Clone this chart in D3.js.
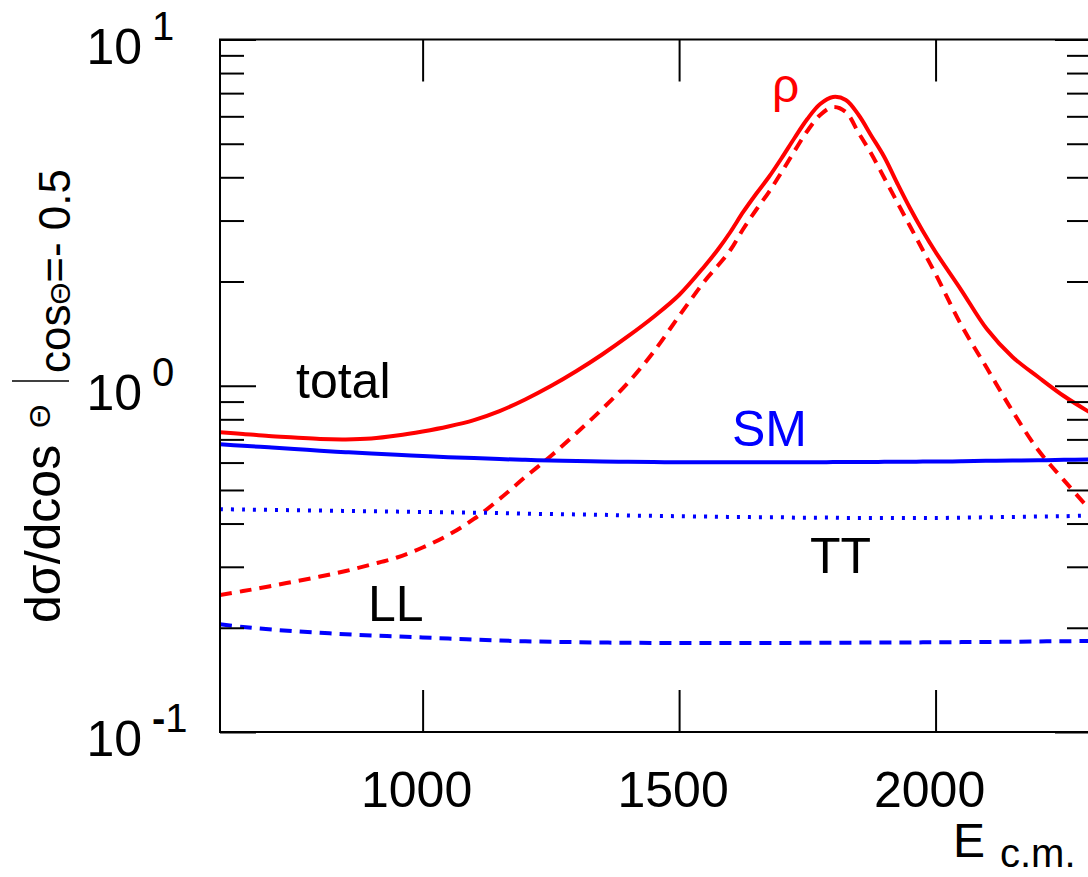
<!DOCTYPE html>
<html><head><meta charset="utf-8">
<script src="https://cdn.jsdelivr.net/npm/d3@7"></script>
<style>
body{margin:0;background:#fff}
svg{display:block}
text{font-family:"Liberation Sans",Arial,Helvetica,sans-serif}
</style>
</head><body>
<svg id="c" width="1088" height="877"></svg>
<script>
// ---- data ----
const energy = [605,650,700,750,800,850,900,950,1000,1050,1100,1150,1200,1250,1300,1350,1400,1450,1500,1550,1575,1600,1625,1650,1675,1700,1725,1750,1775,1800,1825,1850,1875,1900,1925,1950,1975,2000,2050,2100,2150,2200,2250,2303];
const totalRho = [0.734,0.726,0.716,0.709,0.702,0.700,0.704,0.718,0.738,0.763,0.796,0.845,0.913,0.998,1.103,1.231,1.388,1.580,1.828,2.218,2.466,2.780,3.176,3.580,4.007,4.548,5.195,5.894,6.512,6.824,6.689,6.053,5.266,4.578,3.851,3.261,2.799,2.434,1.890,1.458,1.211,1.060,0.934,0.834];
const rhoOnly = [0.2486,0.2553,0.2631,0.2720,0.2812,0.2917,0.3046,0.3191,0.3410,0.3706,0.4123,0.4710,0.5449,0.6267,0.7303,0.8566,1.0185,1.2515,1.590,2.007,2.218,2.466,2.836,3.218,3.627,4.143,4.764,5.443,6.053,6.383,6.175,5.371,4.670,3.981,3.394,2.893,2.466,2.102,1.498,1.125,0.845,0.652,0.534,0.435];
const smTotal = [0.678,0.671,0.664,0.657,0.649,0.643,0.637,0.632,0.627,0.622,0.618,0.614,0.611,0.608,0.606,0.604,0.603,0.602,0.601,0.601,0.601,0.601,0.601,0.601,0.601,0.601,0.601,0.601,0.601,0.602,0.602,0.602,0.602,0.603,0.603,0.603,0.604,0.604,0.605,0.607,0.608,0.609,0.611,0.613];
const smTT = [0.440,0.439,0.438,0.437,0.436,0.435,0.434,0.433,0.432,0.431,0.430,0.429,0.427,0.426,0.425,0.424,0.422,0.421,0.420,0.419,0.4185,0.418,0.418,0.417,0.417,0.417,0.416,0.416,0.416,0.416,0.415,0.415,0.415,0.415,0.415,0.415,0.415,0.415,0.416,0.417,0.418,0.419,0.420,0.422];
const smLL = [0.2046,0.201,0.198,0.1955,0.1935,0.1915,0.190,0.1888,0.1875,0.1862,0.185,0.1838,0.1828,0.1822,0.1817,0.1813,0.181,0.1808,0.1807,0.1807,0.1807,0.1807,0.1807,0.1807,0.1808,0.1808,0.1809,0.1809,0.181,0.181,0.1811,0.1812,0.1813,0.1813,0.1814,0.1814,0.1815,0.1816,0.1818,0.182,0.1823,0.1826,0.1829,0.1831];

const xTickValues = [1000,1500,2000];
const xTickLabels = ["1000","1500","2000"];
const yMajorValues = [0.1,1,10];
const yMajorBase = ["10","10","10"];
const yMajorExp = ["-1","0","1"];
const yMinorValues = [0.2,0.3,0.4,0.5,0.6,0.7,0.8,0.9,2,3,4,5,6,7,8,9];
const curveLabels = ["total","SM","TT","LL","ρ"];
const xDomain = [605,2303];
const yDomain = [0.1,10];

// ---- layout ----
const L = 220, R = 1091, T = 39.5, B = 732;
const svg = d3.select("#c");
const x = d3.scaleLinear().domain(xDomain).range([L,R]);
const y = d3.scaleLog().domain(yDomain).range([B,T]);

svg.append("defs").append("clipPath").attr("id","clip")
  .append("rect").attr("x",L).attr("y",T).attr("width",R-L).attr("height",B-T);

// ---- curves ----
const series = [
  {v: totalRho, color:"#ff0000", dash:null},
  {v: rhoOnly, color:"#ff0000", dash:"12,8"},
  {v: smTotal, color:"#0000ff", dash:null},
  {v: smTT, color:"#0000ff", dash:"3,8"},
  {v: smLL, color:"#0000ff", dash:"12,8"}
];
const line = d3.line().x((d,i)=>x(energy[i])).y(d=>y(d)).curve(d3.curveCatmullRom.alpha(0.5));
const gc = svg.append("g").attr("clip-path","url(#clip)");
series.forEach(s=>{
  gc.append("path").attr("d",line(s.v)).attr("fill","none")
    .attr("stroke",s.color).attr("stroke-width",4)
    .attr("stroke-dasharray",s.dash);
});

// ---- axes (ticks inward) ----
function styleAxis(g){ g.select(".domain").remove(); g.selectAll("line").attr("stroke","#000").attr("stroke-width",2); g.selectAll("text").remove(); }
svg.append("g").attr("transform",`translate(0,${B})`).call(d3.axisBottom(x).tickValues(xTickValues).tickSize(-42)).call(styleAxis);
svg.append("g").attr("transform",`translate(0,${T})`).call(d3.axisTop(x).tickValues(xTickValues).tickSize(-42)).call(styleAxis);
svg.append("g").attr("transform",`translate(${L},0)`).call(d3.axisLeft(y).tickValues(yMajorValues).tickSize(-36)).call(styleAxis);
svg.append("g").attr("transform",`translate(${L},0)`).call(d3.axisLeft(y).tickValues(yMinorValues).tickSize(-24)).call(styleAxis);
svg.append("g").attr("transform",`translate(${R},0)`).call(d3.axisRight(y).tickValues(yMajorValues).tickSize(-36)).call(styleAxis);
svg.append("g").attr("transform",`translate(${R},0)`).call(d3.axisRight(y).tickValues(yMinorValues).tickSize(-24)).call(styleAxis);

svg.append("rect").attr("x",L).attr("y",T).attr("width",R-L).attr("height",B-T)
  .attr("fill","none").attr("stroke","#000").attr("stroke-width",2);

// ---- tick labels ----
xTickValues.forEach((v,i)=>{
  svg.append("text").attr("x",x(v)-6).attr("y",807).attr("text-anchor","middle")
    .attr("font-size",50).attr("fill","#000").text(xTickLabels[i]);
});
yMajorValues.forEach((v,i)=>{
  const ty = y(v);
  svg.append("text").attr("x",142).attr("y",ty+24).attr("text-anchor","end")
    .attr("font-size",50).attr("fill","#000").text(yMajorBase[i]);
  const e = svg.append("text").attr("x",152).attr("y",ty).attr("text-anchor","start")
    .attr("font-size",40).attr("fill","#000");
  const s = yMajorExp[i];
  if (s[0] === "-") {
    e.append("tspan").attr("font-weight","bold").text("-");
    e.append("tspan").text(s.slice(1));
  } else {
    e.append("tspan").text(s);
  }
});

// ---- axis titles ----
svg.append("text").attr("x",953).attr("y",857).attr("font-size",48).attr("fill","#000").text("E");
svg.append("text").attr("x",1000).attr("y",867).attr("font-size",40).attr("fill","#000").text("c.m.");

function rotText(px, py, size){
  return svg.append("text").attr("transform",`translate(${px},${py}) rotate(-90)`)
    .attr("font-size",size).attr("fill","#000");
}
rotText(60, 623, 50).text("dσ/dcos");
rotText(50, 428, 30).text("Θ");
svg.append("line").attr("x1",12).attr("x2",69).attr("y1",381).attr("y2",381)
  .attr("stroke","#000").attr("stroke-width",1.5);
const sub = rotText(70, 373, 44);
sub.append("tspan").text("cos");
sub.append("tspan").attr("font-size",28).text("Θ");
sub.append("tspan").text("=- 0.5");

// ---- curve labels ----
const labelPos = [
  {x:296,y:398,c:"#000",s:50},
  {x:732,y:446,c:"#0000ff",s:50},
  {x:810,y:573,c:"#000",s:50},
  {x:368,y:621,c:"#000",s:50},
  {x:772,y:102,c:"#ff0000",s:48}
];
curveLabels.forEach((t,i)=>{
  const p = labelPos[i];
  svg.append("text").attr("x",p.x).attr("y",p.y).attr("font-size",p.s).attr("fill",p.c).text(t);
});
</script>
</body></html>
